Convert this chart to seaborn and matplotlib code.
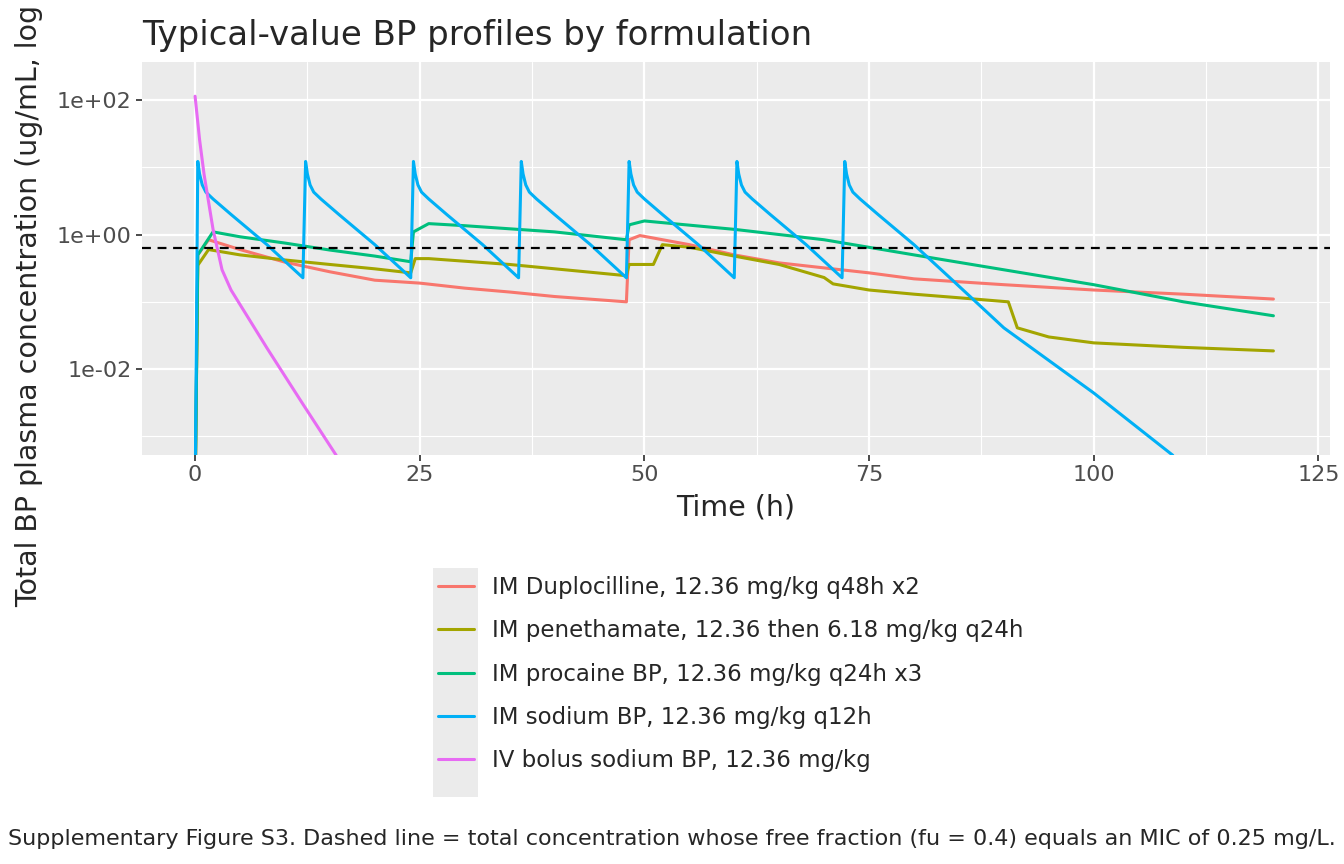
import matplotlib
matplotlib.use("Agg")
import matplotlib.pyplot as plt
import matplotlib.ticker as mticker
import seaborn as sns
import pandas as pd
import numpy as np

labels = ["IM Duplocilline, 12.36 mg/kg q48h x2",
          "IM penethamate, 12.36 then 6.18 mg/kg q24h",
          "IM procaine BP, 12.36 mg/kg q24h x3",
          "IM sodium BP, 12.36 mg/kg q12h",
          "IV bolus sodium BP, 12.36 mg/kg"]
colors = ["#F8766D", "#A3A500", "#00BF7D", "#00B0F6", "#E76BF3"]

dup_t = [0, 0.3, 1.5, 5, 10, 15, 20, 25, 30, 35, 40, 48, 48.3, 49.5, 55, 60, 65, 70, 75, 80, 90, 100, 110, 120]
dup_c = [1e-4, 0.5, 0.84, 0.6, 0.39, 0.28, 0.21, 0.19, 0.16, 0.14, 0.12, 0.10, 0.84, 0.97, 0.71, 0.50, 0.38, 0.32, 0.27, 0.22, 0.18, 0.15, 0.13, 0.11]

pen_t = [0, 0.3, 1.5, 5, 10, 15, 20, 24, 24.5, 26, 35, 48, 48.3, 51, 52, 55, 60, 65, 70, 71, 75, 80, 85, 90.5, 91.5, 95, 100, 110, 120]
pen_c = [1e-4, 0.35, 0.60, 0.50, 0.42, 0.36, 0.31, 0.27, 0.44, 0.44, 0.36, 0.245, 0.36, 0.36, 0.71, 0.65, 0.48, 0.36, 0.23, 0.185, 0.15, 0.13, 0.115, 0.10, 0.041, 0.030, 0.0245, 0.021, 0.0186]

pro_t = [0, 0.3, 2, 5, 10, 15, 20, 24, 24.3, 26, 30, 40, 48, 48.3, 50, 60, 70, 80, 90, 100, 110, 120]
pro_c = [1e-4, 0.5, 1.1, 0.93, 0.75, 0.59, 0.48, 0.395, 1.1, 1.46, 1.36, 1.1, 0.84, 1.4, 1.6, 1.2, 0.84, 0.50, 0.30, 0.18, 0.10, 0.062]

sod_t = [0, 0.3, 0.5, 0.8, 1.2, 2, 4, 8, 12,
         12.3, 12.5, 12.8, 13.2, 14, 16, 20, 24,
         24.3, 24.5, 24.8, 25.2, 26, 28, 32, 36,
         36.3, 36.5, 36.8, 37.2, 38, 40, 44, 48,
         48.3, 48.5, 48.8, 49.2, 50, 52, 56, 60,
         60.3, 60.5, 60.8, 61.2, 62, 64, 68, 72,
         72.3, 72.5, 72.8, 73.2, 74, 76, 80, 84, 90, 100, 108.8]
sod_c = [1e-4, 12.3, 8.0, 5.5, 4.3, 3.4, 2.0, 0.71, 0.228,
         12.3, 8.0, 5.5, 4.3, 3.4, 2.0, 0.71, 0.228,
         12.3, 8.0, 5.5, 4.3, 3.4, 2.0, 0.71, 0.228,
         12.3, 8.0, 5.5, 4.3, 3.4, 2.0, 0.71, 0.228,
         12.3, 8.0, 5.5, 4.3, 3.4, 2.0, 0.71, 0.228,
         12.3, 8.0, 5.5, 4.3, 3.4, 2.0, 0.71, 0.228,
         12.3, 8.0, 5.5, 4.3, 3.4, 2.0, 0.71, 0.228, 0.041, 0.0044, 0.00052]

iv_t = [0, 0.5, 1, 2, 3, 4, 8, 12, 15.7]
iv_c = [115, 26, 7.9, 1.2, 0.30, 0.15, 0.0205, 0.003, 0.00052]

mic_line = 0.625

frames = []
for lab, t, c in zip(labels, [dup_t, pen_t, pro_t, sod_t, iv_t], [dup_c, pen_c, pro_c, sod_c, iv_c]):
    frames.append(pd.DataFrame({"Time": t, "Conc": c, "Formulation": lab}))
df = pd.concat(frames)

sns.set_theme(style="darkgrid", rc={"axes.facecolor": "#EBEBEB", "grid.color": "white"})
plt.rcParams['font.family'] = ['DejaVu Sans']

fig = plt.figure(figsize=(13.44, 8.64), dpi=100)
ax = fig.add_axes([0.1057, 0.4734, 0.8839, 0.4548])
sns.lineplot(data=df, x="Time", y="Conc", hue="Formulation", palette=colors,
             hue_order=labels, ax=ax, linewidth=2.2, sort=False, estimator=None, legend=False)
ax.axhline(mic_line, color="black", linestyle=(0, (4, 3)), linewidth=1.6)
ax.set_yscale("log")
ax.set_xlim(-5.9, 126.3)
ax.set_ylim(10 ** -3.28, 10 ** 2.57)
ax.set_yticks([1e-2, 1e0, 1e2])
ax.set_yticklabels(["1e-02", "1e+00", "1e+02"])
ax.set_yticks([1e-3, 1e-1, 1e1], minor=True)
ax.yaxis.set_minor_formatter(mticker.NullFormatter())
ax.set_xticks([0, 25, 50, 75, 100, 125])
ax.set_xticks([12.5, 37.5, 62.5, 87.5, 112.5], minor=True)
ax.grid(which="major", color="white", linewidth=1.6)
ax.grid(which="minor", color="white", linewidth=0.8)
ax.tick_params(axis="both", which="major", labelsize=16, colors="#4D4D4D", length=4, color="#333333", left=True, bottom=True)
ax.tick_params(which="minor", length=0)
for s in ax.spines.values():
    s.set_visible(False)
ax.set_xlabel("Time (h)", fontsize=20.5, labelpad=6)
ax.set_ylabel("")
ax.set_title("Typical-value BP profiles by formulation", fontsize=24.5, loc="left", pad=12)
fig.text(0.022, 0.70, "Total BP plasma concentration (ug/mL, log scale)", rotation=90,
         fontsize=20.5, va="center", ha="center")

from matplotlib.lines import Line2D
handles = [Line2D([0], [0], color=c, lw=2.2) for c in colors]
leg = fig.legend(handles, labels, loc="upper left", bbox_to_anchor=(0.326, 0.333),
                 frameon=False, fontsize=16.5, handlelength=1.55, labelspacing=0.88,
                 borderaxespad=0, borderpad=0, handletextpad=0.8)
fig.patches.append(plt.Rectangle((0.322, 0.0775), 0.034, 0.265, transform=fig.transFigure,
                                 facecolor="#EBEBEB", edgecolor="none", zorder=-1))
fig.text(0.5, 0.022, "Supplementary Figure S3. Dashed line = total concentration whose free fraction (fu = 0.4) equals an MIC of 0.25 mg/L.",
         fontsize=16, ha="center")
fig.savefig("out.png", dpi=100)
